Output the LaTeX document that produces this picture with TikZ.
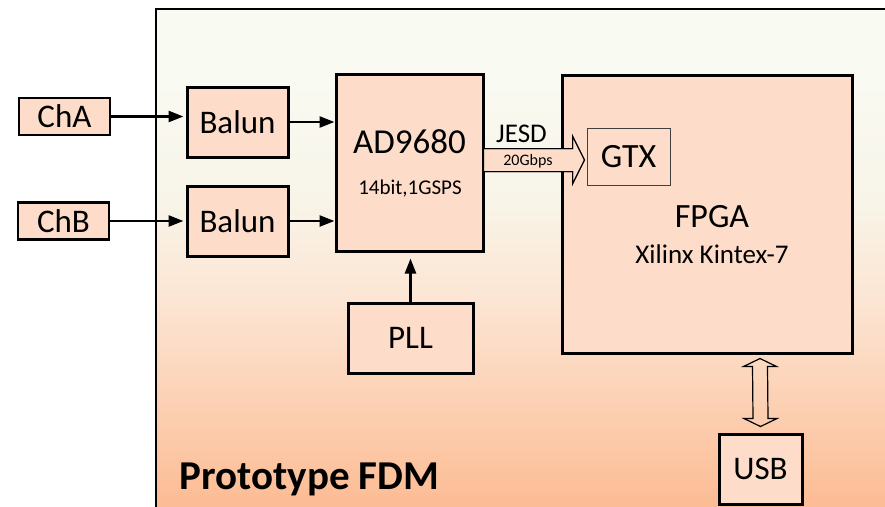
\documentclass[tikz,border=0pt]{standalone}
\usepackage{fontspec}
\setmainfont{Carlito}
\usepackage{tikz}
\usetikzlibrary{positioning,arrows.meta,calc}
\usepackage{xcolor}
\definecolor{peach}{RGB}{253,221,201}
\definecolor{fdmtop}{RGB}{249,250,242}
\definecolor{fdmupper}{RGB}{248,244,232}
\definecolor{fdmmid}{RGB}{252,228,210}
\definecolor{fdmbot}{RGB}{252,189,150}
\pgfdeclareverticalshading{fdmshade}{100bp}{color(0bp)=(fdmbot); color(27bp)=(fdmbot); color(46bp)=(fdmmid); color(56bp)=(fdmupper); color(68bp)=(fdmtop); color(100bp)=(fdmtop)}

\begin{document}
\begin{tikzpicture}[x=1pt, y=-1pt,
    box/.style={draw, line width=3pt, fill=peach, inner sep=0pt, font=\fontsize{33}{36}\selectfont},
    chan/.style={draw, line width=2.2pt, fill=peach, inner sep=0pt, minimum width=91pt, minimum height=37pt, font=\fontsize{33}{36}\selectfont},
    arr/.style={-{Triangle[length=15pt, width=11pt]}, line width=2.6pt},
    fat/.style={draw, fill=peach, line width=1pt, line join=miter},
    hollow/.style={draw, line width=1.2pt, line join=miter}]
  \useasboundingbox (0,0) rectangle (885,506);
  % board
  \draw[line width=2.4pt, shading=fdmshade] (156,9) rectangle (895,520);
  \node[anchor=base west, font=\fontsize{41}{44}\selectfont\bfseries] (title) at (176,489) {Prototype FDM};
  % inputs
  \node[chan] (cha) at (64.5,116.5) {ChA};
  \node[chan] (chb) at (63.5,221) {ChB};
  \node[box, minimum width=101pt, minimum height=70pt] (balunA) at (237.5,122) {Balun};
  \node[box, minimum width=101pt, minimum height=70pt] (balunB) at (237.5,221) {Balun};
  % ADC
  \node[box, minimum width=147pt, minimum height=177pt] (ad) at (409.5,162.5) {};
  \node[anchor=base, font=\fontsize{35}{38}\selectfont] (adname) at (409.5,153) {AD9680};
  \node[anchor=base, font=\fontsize{21}{24}\selectfont] (adspec) at (410,194) {14bit,1GSPS};
  \node[box, minimum width=125pt, minimum height=70pt] (pll) at (410.5,338) {PLL};
  % FPGA
  \node[box, minimum width=290pt, minimum height=278pt] (fpga) at (707,214) {};
  \node[anchor=base, font=\fontsize{34}{37}\selectfont] (fpganame) at (712,227) {FPGA};
  \node[anchor=base, font=\fontsize{27}{30}\selectfont] (fpgatype) at (712,263) {Xilinx Kintex-7};
  \node[draw=black!75, line width=1pt, fill=peach, inner sep=0pt, minimum width=83pt, minimum height=57pt, font=\fontsize{34}{37}\selectfont] (gtx) at (628.5,156.5) {GTX};
  \node[box, minimum width=83pt, minimum height=70pt] (usb) at (760.5,469) {USB};
  % links
  \draw[arr, shorten >=2pt] (cha.east) -- (cha.east -| balunA.west);
  \draw[arr, shorten >=2pt] (chb.east) -- (chb.east -| balunB.west);
  \draw[arr] (balunA.east) -- (balunA.east -| ad.west);
  \draw[arr] (balunB.east) -- (balunB.east -| ad.west);
  \draw[arr, shorten >=6pt] (pll.north) -- (pll.north |- ad.south);
  % JESD link
  \coordinate (jin) at (ad.east |- 0,160);
  \coordinate (jtip) at ($(gtx.west |- jin)+(-2,0)$);
  \path[fat] ($(jin)+(-1,-11.5)$) -- ($(jtip)+(-12,-11.5)$) -- ($(jtip)+(-12,-24)$) -- (jtip)
    -- ($(jtip)+(-12,24)$) -- ($(jtip)+(-12,11.5)$) -- ($(jin)+(-1,11.5)$) -- cycle;
  \draw[line width=1pt, line join=miter] ($(jin)+(0,-11.5)$) -- ($(jtip)+(-12,-11.5)$) -- ($(jtip)+(-12,-24)$) -- (jtip)
    -- ($(jtip)+(-12,24)$) -- ($(jtip)+(-12,11.5)$) -- ($(jin)+(0,11.5)$);
  \node[anchor=base, font=\fontsize{27}{30}\selectfont] (jesd) at (521.5,142) {JESD};
  \node[anchor=base, font=\fontsize{16}{18}\selectfont] (rate) at (528,165.5) {20Gbps};
  % USB link
  \coordinate (utop) at ($(fpga.south)+(53,4)$);
  \coordinate (ubot) at ($(usb.north)+(0,-6)$);
  \draw[hollow] (ubot) -- ++(-16.5,-8) -- ++(9,0) -- ($(utop)+(-7.5,8)$) -- ++(-9,0) -- (utop)
    -- ++(16.5,8) -- ++(-9,0) -- ($(ubot)+(7.5,-8)$) -- ++(9,0) -- cycle;
\end{tikzpicture}
\end{document}
